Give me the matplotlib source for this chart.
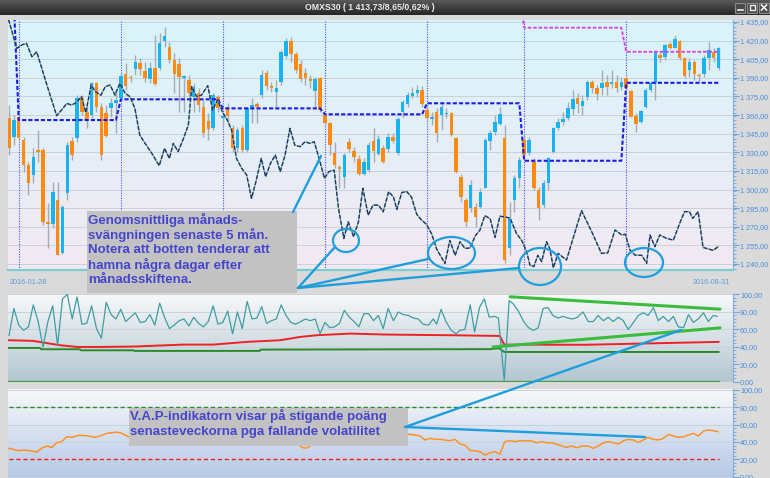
import numpy as np
import matplotlib
matplotlib.use("Agg")
import matplotlib.pyplot as plt
from matplotlib.colors import to_rgb
from matplotlib.patches import Rectangle, Ellipse
from matplotlib.ticker import FixedLocator, MultipleLocator, FuncFormatter

plt.rcParams['font.family'] = ['Liberation Sans', 'DejaVu Sans']

# ---------------- data ----------------
opens = [1357.3, 1342.6, 1358.7, 1339.9, 1319.7, 1311.7, 1331.8, 1331.8, 1274.0, 1272.0,
         1291.5, 1248.6, 1297.0, 1339.0, 1341.8, 1373.5, 1362.7, 1360.0, 1385.6, 1366.8,
         1361.4, 1365.4, 1370.0, 1373.5, 1392.8, 1390.7, 1397.0, 1402.2, 1395.5, 1389.0,
         1398.0, 1397.6, 1419.7, 1414.5, 1404.4, 1400.9, 1390.0, 1388.2, 1374.8, 1377.5,
         1366.8, 1355.2, 1349.3, 1374.8, 1357.5, 1365.9, 1349.3, 1333.7, 1349.3, 1331.8,
         1365.4, 1368.6, 1376.1, 1393.6, 1383.7, 1378.8, 1386.9, 1407.8, 1419.7, 1408.9,
         1400.8, 1393.6, 1388.8, 1379.4, 1389.6, 1360.0, 1353.3, 1329.1, 1318.4, 1310.3,
         1338.5, 1331.0, 1324.6, 1312.2, 1315.7, 1339.0, 1328.3, 1333.2, 1332.6, 1342.6,
         1329.1, 1362.7, 1368.6, 1375.0, 1377.5, 1380.2, 1364.0, 1356.8, 1362.7, 1360.0,
         1360.6, 1361.4, 1341.2, 1310.3, 1291.5, 1284.8, 1286.2, 1286.2, 1301.5, 1339.0,
         1346.1, 1352.5, 1341.2, 1252.6, 1291.5, 1309.5, 1339.9, 1329.1, 1322.4, 1299.6,
         1287.5, 1305.0, 1330.5, 1349.3, 1354.7, 1357.3, 1364.9, 1373.5, 1367.5, 1374.8,
         1386.3, 1381.5, 1381.5, 1386.3, 1385.0, 1386.3, 1382.9, 1390.0, 1379.4, 1359.5,
         1354.7, 1366.8, 1380.2, 1386.1, 1408.4, 1407.0, 1417.0, 1414.3, 1419.7, 1405.7,
         1396.3, 1403.0, 1392.3, 1392.8, 1406.2, 1410.5, 1397.6]
closes = [1333.2, 1356.0, 1341.8, 1319.7, 1305.0, 1326.5, 1330.0, 1274.0, 1272.0, 1298.3,
          1247.2, 1286.2, 1335.9, 1327.8, 1374.0, 1362.7, 1356.8, 1385.6, 1366.8, 1327.8,
          1343.4, 1370.0, 1372.0, 1391.5, 1383.7, 1389.6, 1403.0, 1397.0, 1390.0, 1398.0,
          1384.7, 1418.3, 1423.7, 1404.4, 1392.8, 1391.0, 1391.5, 1377.5, 1382.9, 1368.0,
          1345.2, 1348.7, 1376.1, 1365.4, 1359.0, 1359.5, 1333.2, 1347.9, 1331.8, 1365.4,
          1368.1, 1366.8, 1392.3, 1383.7, 1381.5, 1382.0, 1411.0, 1419.7, 1408.9, 1396.3,
          1389.0, 1389.6, 1387.4, 1389.0, 1364.1, 1353.3, 1335.8, 1319.7, 1316.5, 1327.8,
          1332.6, 1326.4, 1312.2, 1322.4, 1335.8, 1331.0, 1340.7, 1322.4, 1342.6, 1339.0,
          1356.8, 1370.2, 1376.1, 1377.5, 1380.0, 1368.6, 1357.4, 1358.7, 1345.2, 1366.8,
          1361.4, 1343.9, 1314.4, 1294.2, 1274.0, 1303.6, 1278.1, 1298.3, 1339.9, 1345.2,
          1354.1, 1360.6, 1243.2, 1276.8, 1309.5, 1323.8, 1327.8, 1339.9, 1300.9, 1284.8,
          1305.0, 1325.1, 1349.3, 1354.7, 1356.8, 1365.4, 1372.9, 1368.6, 1371.3, 1386.3,
          1382.0, 1377.0, 1385.6, 1382.9, 1386.9, 1381.5, 1386.3, 1382.0, 1358.7, 1352.5,
          1363.3, 1380.2, 1386.1, 1411.6, 1406.2, 1416.4, 1414.3, 1421.3, 1406.2, 1391.7,
          1403.0, 1392.8, 1391.5, 1406.2, 1412.4, 1405.7, 1413.7]
highs = [1368.1, 1360.0, 1361.4, 1342.6, 1322.4, 1333.2, 1348.0, 1333.2, 1288.8, 1306.3,
         1306.3, 1287.5, 1338.5, 1342.6, 1376.1, 1376.1, 1368.1, 1386.9, 1386.9, 1369.4,
         1368.1, 1373.5, 1378.8, 1393.6, 1401.6, 1392.3, 1408.4, 1405.7, 1403.0, 1403.0,
         1424.5, 1425.8, 1431.2, 1419.1, 1409.7, 1405.7, 1392.3, 1392.3, 1385.5, 1381.5,
         1372.1, 1361.4, 1377.5, 1376.1, 1362.0, 1369.4, 1352.0, 1350.6, 1352.0, 1366.7,
         1373.5, 1370.8, 1396.3, 1396.3, 1386.9, 1388.2, 1412.4, 1421.8, 1423.1, 1411.0,
         1404.3, 1397.6, 1392.3, 1390.9, 1390.9, 1361.4, 1354.6, 1338.5, 1319.7, 1329.1,
         1341.8, 1334.5, 1327.8, 1325.1, 1338.5, 1349.3, 1343.9, 1335.8, 1345.2, 1345.2,
         1358.7, 1372.1, 1378.8, 1382.9, 1384.2, 1383.7, 1368.1, 1362.7, 1365.4, 1368.6,
         1365.4, 1362.7, 1342.6, 1312.2, 1292.9, 1307.6, 1288.8, 1300.9, 1341.2, 1347.9,
         1360.0, 1366.7, 1352.0, 1290.2, 1311.7, 1326.4, 1345.2, 1342.6, 1325.1, 1302.3,
         1307.6, 1326.4, 1350.6, 1357.3, 1362.7, 1370.2, 1380.2, 1377.5, 1376.1, 1388.2,
         1388.2, 1384.2, 1396.3, 1392.3, 1396.3, 1392.3, 1390.9, 1390.9, 1380.2, 1361.4,
         1364.1, 1381.5, 1386.9, 1412.4, 1410.5, 1417.0, 1419.1, 1424.5, 1420.5, 1407.0,
         1405.7, 1404.3, 1393.6, 1408.4, 1419.1, 1413.7, 1415.1]
lows = [1327.8, 1335.8, 1341.2, 1314.4, 1295.6, 1305.0, 1322.4, 1271.4, 1252.6, 1268.7,
        1247.2, 1247.7, 1291.5, 1323.8, 1338.5, 1360.0, 1349.3, 1357.3, 1362.7, 1323.8,
        1342.6, 1358.7, 1345.2, 1372.1, 1380.2, 1386.9, 1392.3, 1392.3, 1386.9, 1385.6,
        1384.2, 1396.3, 1415.1, 1401.7, 1377.5, 1362.7, 1362.7, 1374.8, 1362.7, 1362.7,
        1342.6, 1339.9, 1347.9, 1362.7, 1352.0, 1353.3, 1330.5, 1330.5, 1330.5, 1330.5,
        1353.3, 1353.3, 1373.5, 1380.2, 1378.8, 1366.7, 1384.2, 1405.7, 1403.0, 1393.6,
        1386.9, 1384.2, 1381.5, 1366.7, 1362.7, 1352.0, 1327.8, 1317.0, 1301.0, 1301.0,
        1330.5, 1322.4, 1311.7, 1311.7, 1314.4, 1322.4, 1327.8, 1321.1, 1330.5, 1337.2,
        1327.8, 1358.7, 1366.7, 1373.5, 1374.8, 1366.7, 1354.6, 1352.0, 1338.5, 1348.0,
        1357.3, 1343.4, 1313.0, 1290.2, 1270.0, 1282.1, 1270.0, 1284.8, 1300.9, 1331.8,
        1343.9, 1352.0, 1240.5, 1247.2, 1282.1, 1300.9, 1325.1, 1327.8, 1299.6, 1275.4,
        1284.8, 1299.6, 1329.1, 1347.9, 1352.0, 1356.0, 1360.0, 1361.4, 1360.0, 1372.1,
        1377.5, 1372.1, 1376.1, 1376.1, 1381.5, 1378.8, 1380.2, 1380.2, 1358.7, 1346.6,
        1353.3, 1365.4, 1378.8, 1372.1, 1403.0, 1404.3, 1413.2, 1413.7, 1404.3, 1389.6,
        1390.9, 1388.2, 1386.9, 1390.9, 1396.3, 1403.0, 1396.3]

# month starts (trading-day index) and monthly levels
month_start = [0, 2, 23, 44, 65, 86, 106, 127]
n_days = 147
swing_level = [1450.0, 1356.0, 1372.7, 1365.4, 1360.6, 1369.5, 1323.2, 1386.0]
upper_level = [np.nan, np.nan, np.nan, np.nan, np.nan, 1460.0, 1430.4, 1411.0]

# average monthly swing line (vertices)
avg_day = [-0.1, 1.6, 2.6, 3.6, 4.7, 5.7, 7.8, 9.8, 10.8, 11.9, 12.9, 13.9, 14.9, 15.8, 16.9,
           17.8, 18.9, 19.8, 20.8, 21.8, 22.8, 23.9, 24.9, 25.9, 26.9, 28.0, 29.4, 30.9, 32.0,
           33.0, 33.8, 34.8, 35.9, 36.9, 37.6, 38.6, 39.6, 40.9, 41.9, 42.9, 43.9, 44.9, 45.8,
           46.8, 47.9, 48.9, 49.9, 50.8, 51.9, 52.8, 53.8, 54.8, 55.8, 56.8, 57.8, 58.8, 59.9,
           60.9, 61.9, 62.8, 63.8, 64.9, 65.8, 66.9, 67.8, 68.9, 69.8, 70.9, 71.9, 72.8, 73.9,
           74.9, 76.0, 77.0, 78.1, 79.1, 79.8, 80.8, 81.8, 82.8, 83.9, 84.9, 85.9, 87.0, 88.0,
           89.7, 90.7, 91.8, 92.8, 93.8, 94.9, 95.9, 96.9, 97.9, 99.0, 100.0, 101.0, 102.0,
           103.1, 104.4, 105.5, 106.5, 107.2, 108.0, 108.8, 109.6, 110.6, 111.3, 112.0, 113.0,
           114.7, 117.8, 119.9, 121.9, 123.2, 124.7, 126.1, 126.8, 127.8, 128.8, 130.2, 131.2,
           131.9, 132.9, 133.9, 135.3, 136.7, 138.0, 139.0, 140.0, 140.7, 141.8, 142.8, 144.9,
           145.9]
avg_val = [1437, 1413.7, 1416.5, 1417.8, 1407, 1411, 1384.2, 1359.5, 1364, 1369.4, 1368.1,
           1370.2, 1374.8, 1362, 1384.2, 1378.8, 1376, 1382.9, 1384.2, 1376.1, 1385.6, 1377.5,
           1374.8, 1365.4, 1343.9, 1337.2, 1329.1, 1319.2, 1333.2, 1325.1, 1337.2, 1330.5,
           1341.2, 1352, 1382.9, 1374.8, 1376.1, 1383.7, 1364, 1372.1, 1362.7, 1356, 1348,
           1325.1, 1317, 1311.7, 1292.9, 1306.3, 1325.1, 1310.3, 1321.1, 1327.8, 1314.4,
           1327.8, 1349.3, 1335.8, 1334.5, 1338.5, 1337.2, 1338.5, 1325.1, 1309, 1314.4,
           1315.7, 1284.8, 1260.6, 1274, 1262, 1274, 1301, 1279.4, 1287.5, 1287.5, 1282.1,
           1298.2, 1294.2, 1284, 1297.5, 1298.5, 1294, 1280, 1275.4, 1272, 1264, 1252, 1240.5,
           1259, 1247, 1258, 1252.6, 1253, 1262.5, 1267.4, 1279, 1276.5, 1261.5, 1278.5, 1278,
           1277, 1264.7, 1259, 1250, 1239, 1238, 1247, 1242, 1258, 1252, 1237, 1248.6, 1243.2,
           1283, 1266, 1248.6, 1249, 1267.4, 1263.4, 1264, 1251, 1247.2, 1247, 1240.6, 1263.4,
           1254, 1263.4, 1260.7, 1259.3, 1272.8, 1282.2, 1282.2, 1276.8, 1282.2, 1253.4, 1251,
           1254]

# oscillator panel
osc_day = list(range(0, 78)) + [
    78.0, 79.1, 80.1, 81.1, 82.2, 83.2, 84.2, 85.2, 86.3, 87.3, 88.0, 88.9, 89.9, 91.0, 92.0,
    92.8, 93.8, 94.9, 95.8, 96.8, 97.8, 98.8, 99.9, 100.7, 101.9, 102.9, 103.8, 104.8, 105.9,
    106.9, 107.9, 108.9, 109.9, 110.9, 111.9, 113.0, 114.0, 115.0, 116.0, 117.0, 118.1, 119.2,
    120.2, 121.2, 122.3, 123.3, 124.3, 125.4, 126.4, 127.4, 128.5, 129.5, 130.5, 131.5, 132.6,
    133.6, 134.6, 135.7, 136.7, 137.7, 138.8, 139.8, 140.8, 141.8, 142.9, 143.9, 144.9, 145.7]
osc_val = [53, 84, 65, 59, 63, 88, 69, 40, 69, 87,
           42, 95, 100, 72, 97, 66, 67, 87, 61, 50,
           91, 77, 72, 83, 69, 74, 79, 68, 69, 77,
           65, 90, 74, 61, 65, 70, 72, 64, 74, 67,
           63, 69, 87, 66, 68, 81, 55, 80, 61, 92,
           72, 73, 86, 67, 70, 72, 88, 76, 68, 66,
           69, 72, 70, 72, 55, 68, 62, 63, 67, 82,
           74, 69, 63, 78, 78, 70, 76, 61,
           84, 70, 80, 77, 76, 73, 72, 66, 65, 72, 66, 83, 69, 59, 55,
           59, 60, 88, 57, 85, 95, 74, 75, 73, 2, 93, 89, 81, 69, 62,
           59, 62, 84, 85, 76, 73, 75, 73, 72, 74, 80, 69, 69, 76, 70,
           74, 69, 74, 70, 60, 68, 76, 79, 76, 85, 70, 75, 69, 75, 63,
           62, 77, 68, 72, 79, 69, 76, 75]
red_day = [0, 4.9, 10.5, 14.0, 18.7, 25.6, 35.9, 42.0, 48.9, 55.8, 59.9, 63.3, 70.2, 77.4,
           91.1, 100.7, 101.0, 101.9, 118.5, 146.0]
red_val = [47.7, 47.0, 42.0, 40.0, 40.0, 40.5, 42.7, 42.7, 45.8, 47.7, 51.5, 53.4, 55.3, 54.2,
           53.4, 52.6, 52.4, 42.7, 42.5, 45.8]
grn_day = [0, 6.4, 6.6, 14.6, 14.8, 25.6, 25.8, 51.6, 51.8, 99.0, 100.8, 101.9, 146.0]
grn_val = [38.9, 38.9, 37.4, 37.4, 36.2, 36.2, 35.5, 35.5, 37.0, 37.5, 38.6, 34.3, 34.3]
trend_hi_day = [103.1, 146.3]
trend_hi_val = [97.3, 83.2]
trend_lo_day = [99.6, 146.3]
trend_lo_val = [40.0, 61.8]

# V.A.P panel
vap_day = [-0.1, 0.9, 1.9, 2.9, 4.3, 5.7, 6.7, 7.8, 8.8, 9.8, 10.8, 11.9, 12.9, 14.3, 16.0,
           17.7, 18.7, 20.1, 22.2, 23.2, 24.6,
           25.0, 59.6, 60.4, 61.2, 62.2, 62.5,
           82.0, 83.5, 84.6, 85.6, 86.6, 87.7, 88.7, 89.7, 90.7, 91.8, 92.8, 93.8, 94.9, 95.9,
           96.9, 97.9, 99.0, 100.0, 101.0, 102.0, 103.1, 104.1, 105.1, 106.2, 107.5, 108.6,
           109.6, 110.6, 111.7, 112.7, 113.7, 114.7, 115.7, 116.8, 117.8, 119.2, 120.2, 121.2,
           122.3, 123.3, 124.3, 125.4, 126.4, 127.4, 128.5, 129.5, 130.5, 131.5, 132.6, 133.6,
           134.6, 135.7, 136.7, 137.7, 138.8, 139.8, 140.8, 141.8, 142.9, 143.9, 144.9, 145.9]
vap_val = [32.7, 31.5, 30.0, 30.8, 30.0, 28.4, 32.7, 35.4, 33.8, 39.2, 40.4, 46.1, 45.4, 47.7,
           47.3, 45.4, 46.9, 50.0, 51.5, 50.0, 46.1,
           np.nan, 36.5, 33.5, 33.0, 36.5, np.nan,
           49.2, 48.1, 46.9, 42.3, 44.2, 43.1, 43.1, 42.3, 41.5, 43.1, 37.7, 36.5, 30.0, 30.0,
           28.8, 25.0, 27.7, 28.8, 26.1, 40.4, 41.5, 40.4, 41.5, 41.5, 41.1, 39.2, 40.4, 39.2,
           39.2, 37.3, 35.8, 33.8, 35.4, 33.4, 35.4, 35.4, 32.7, 35.4, 39.2, 40.4, 39.2, 37.7,
           41.5, 43.0, 42.3, 39.6, 42.3, 45.4, 43.1, 42.3, 44.2, 48.8, 46.9, 45.4, 46.1, 48.1,
           50.0, 46.9, 52.7, 53.9, 53.1, 51.9]
vap_hi, vap_lo = 80, 20

price_ticks = list(range(1240, 1436, 15))
osc_ticks = [0, 20, 40, 60, 80, 100]
title = "OMXS30 ( 1 413,73/8,65/0,62% )"
first_date, last_date = "2016-01-28", "2016-08-31"
note1 = ["Genomsnittliga månads-", "svängningen senaste 5 mån.",
         "Notera att botten tenderar att", "hamna några dagar efter", "månadsskiftena."]
note2 = ["V.A.P-indikatorn visar på stigande poäng",
         "senasteveckorna pga fallande volatilitet"]

# ---------------- figure ----------------
W, H = 770, 478
fig = plt.figure(figsize=(W / 100, H / 100), dpi=100)
fig.patch.set_facecolor('#dadada')


def rect(x0, y0, x1, y1):
    return [x0 / W, 1 - y1 / H, (x1 - x0) / W, (y1 - y0) / H]


def grad(ax, top, bottom):
    t = np.array(to_rgb(top)); b = np.array(to_rgb(bottom))
    g = np.linspace(0, 1, 200)[:, None, None]
    img = t * (1 - g) + b * g
    ax.imshow(img, extent=[0, 1, 0, 1], transform=ax.transAxes, aspect='auto',
              zorder=0, origin='upper', interpolation='bilinear')


def fmt(v, pos=None):
    return f"{v:,.2f}".replace(",", " ").replace(".", ",")


def style(ax, ticks, minor):
    ax.yaxis.tick_right()
    ax.yaxis.set_major_locator(FixedLocator(ticks))
    ax.yaxis.set_minor_locator(MultipleLocator(minor))
    ax.yaxis.set_major_formatter(FuncFormatter(fmt))
    ax.tick_params(axis='y', which='major', length=4, width=0.8, color='#6fa3dd',
                   labelcolor='#4a8fdb', labelsize=5.2, pad=1)
    ax.tick_params(axis='y', which='minor', length=2, width=0.6, color='#6fa3dd')
    ax.set_xticks([])
    for s in ['left', 'top', 'bottom']:
        ax.spines[s].set_visible(False)
    ax.spines['right'].set_color('#7fb0e6')
    for t in ticks:
        ax.axhline(t, color='#c9d2da', lw=0.7, zorder=0.5)


XL = (-0.21, 148.97)
days = np.arange(n_days)

# main price panel
ax1 = fig.add_axes(rect(8, 20, 733, 270))
grad(ax1, '#d8f4fc', '#f3e9f2')
style(ax1, price_ticks, 3)
ax1.spines['bottom'].set_visible(True)
ax1.spines['bottom'].set_color('#7ccfd0')
ax1.spines['bottom'].set_linewidth(1.6)

for m in month_start[1:]:
    ax1.axvline(m, color='#4b4bff', lw=0.8, ls=(0, (1, 1.3)), zorder=1)

o = np.array(opens); c = np.array(closes); hi = np.array(highs); lo = np.array(lows)
n = min(len(o), len(c), len(hi), len(lo))
idx = np.arange(n)
up = c[:n] >= o[:n]
ax1.vlines(idx, lo[:n], hi[:n], color='#a4abb2', lw=1.0, zorder=2)
body_lo = np.minimum(o[:n], c[:n])
body_h = np.maximum(np.abs(c[:n] - o[:n]), 0.9)
cols = np.where(up, '#19b2f2', '#ff8a12')
ax1.bar(idx, body_h, bottom=body_lo, width=0.72, color=cols, edgecolor='none', zorder=3)

counts = np.diff(month_start + [n_days])
swing = np.repeat(swing_level, counts)
upper = np.repeat(upper_level, counts)
ax1.plot(days, swing, color='#1c1ce6', lw=1.5, dashes=(2, 1), zorder=4)
ax1.plot(days, upper, color='#e03be0', lw=1.3, dashes=(2, 1), zorder=4)

ax1.plot(avg_day, avg_val, color='#7cc87c', lw=0.9, zorder=5)
ax1.plot(avg_day, avg_val, color='#24307e', lw=1.0, dashes=(3, 1.2), zorder=5)
ax1.set_xlim(*XL)
ax1.set_ylim(1235.2, 1436.6)

# oscillator panel
ax2 = fig.add_axes(rect(8, 294, 733, 382))
grad(ax2, '#f8f9fa', '#b3c6d1')
style(ax2, osc_ticks, 4)
ax2.plot([0, 146], [0, 0], color='#3f9f3f', lw=1.6, zorder=2)
ax2.plot(grn_day, grn_val, color='#2a8a2a', lw=1.4, zorder=3)
ax2.plot(red_day, red_val, color='#ee2222', lw=1.4, zorder=3)
ax2.plot(osc_day[:len(osc_val)], osc_val[:len(osc_day)], color='#3f9ea2', lw=0.9, zorder=4)
ax2.plot(trend_hi_day, trend_hi_val, color='#3cbc3c', lw=2.2, zorder=5, solid_capstyle='round')
ax2.plot(trend_lo_day, trend_lo_val, color='#3cbc3c', lw=2.2, zorder=5, solid_capstyle='round')
ax2.set_xlim(*XL)
ax2.set_ylim(0, 100.5)

# V.A.P panel
ax3 = fig.add_axes(rect(8, 389, 733, 478))
grad(ax3, '#f8f9fb', '#b5c8e6')
style(ax3, osc_ticks, 4)
ax3.plot([0, 146], [vap_hi, vap_hi], color='#2a8a2a', lw=1.0, dashes=(3, 2), zorder=2)
ax3.plot([0, 146], [vap_lo, vap_lo], color='#f02020', lw=1.0, dashes=(3, 2), zorder=2)
ax3.plot(vap_day, vap_val, color='#ff9222', lw=1.1, zorder=3)
ax3.set_xlim(*XL)
ax3.set_ylim(-1.5, 101.2)

# ---------------- overlay (annotations, window chrome) ----------------
ov = fig.add_axes([0, 0, 1, 1])
ov.set_zorder(10)
ov.patch.set_alpha(0)
ov.axis('off')

tb = np.linspace(0, 1, 30)[:, None, None]
tbar = np.array(to_rgb('#595959')) * (1 - tb) + np.array(to_rgb('#262626')) * tb
ov.imshow(tbar, extent=(0, W, 15, 0), aspect='auto', zorder=1)
ov.text(370, 7.5, title, color='#ececec', fontsize=6.3, fontweight='bold',
        ha='center', va='center', zorder=2)
for bx in (735, 747, 759):
    ov.add_patch(Rectangle((bx, 2.5), 10, 10, facecolor='#4b4b4b', edgecolor='#8c8c8c',
                           lw=0.8, zorder=2))
ov.plot([737.5, 742.5], [10, 10], color='#eeeeee', lw=1.2, zorder=3)
ov.add_patch(Rectangle((749.5, 5), 5, 5, facecolor='none', edgecolor='#eeeeee', lw=1.0, zorder=3))
ov.plot([761.5, 766.5], [5, 10], color='#eeeeee', lw=1.2, zorder=3)
ov.plot([761.5, 766.5], [10, 5], color='#eeeeee', lw=1.2, zorder=3)

ov.text(10, 282, first_date, color='#5b9bd9', fontsize=5.2, ha='left', va='center')
ov.text(730, 283, last_date, color='#5b9bd9', fontsize=5.2, ha='right', va='center')

acol = '#1e9fdc'
ov.add_patch(Rectangle((87, 211), 210, 82, facecolor='#c2c2c2', edgecolor='none', zorder=3))
for k, line in enumerate(note1):
    ov.text(88.5, 220 + 15 * k, line, color='#4646cd', fontsize=9.5, fontweight='bold',
            ha='left', va='center', zorder=4)
ov.add_patch(Rectangle((129, 408), 279, 38, facecolor='#c2c2c2', edgecolor='none', zorder=3))
for k, line in enumerate(note2):
    ov.text(130, 415.5 + 16 * k, line, color='#4646cd', fontsize=9.5, fontweight='bold',
            ha='left', va='center', zorder=4)

for (cx, cy, ew, eh) in [(346, 240.5, 26, 23), (451.5, 253, 47, 32),
                         (540, 266.5, 42, 37), (644, 262.5, 38, 29)]:
    ov.add_patch(Ellipse((cx, cy), ew, eh, facecolor='none', edgecolor=acol, lw=1.6, zorder=5))
for (x0, y0, x1, y1) in [(293, 212, 321, 156), (298, 288, 335, 247), (298, 288, 428, 259),
                         (298, 288, 519, 268), (405, 427, 681, 330), (405, 427, 645, 437)]:
    ov.plot([x0, x1], [y0, y1], color=acol, lw=1.7, zorder=5, solid_capstyle='round')

ov.set_xlim(0, W)
ov.set_ylim(H, 0)

fig.savefig('out.png', dpi=100, facecolor=fig.get_facecolor())
